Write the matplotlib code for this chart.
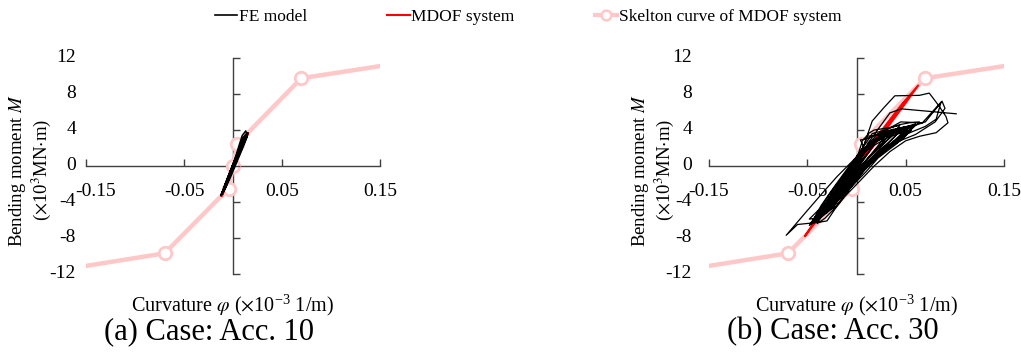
import numpy as np
import matplotlib
matplotlib.use('Agg')
import matplotlib.pyplot as plt
from matplotlib import transforms
from matplotlib.lines import Line2D

plt.rcParams['font.family'] = ['Liberation Serif', 'DejaVu Serif']
plt.rcParams['mathtext.fontset'] = 'stix'

# ---------------- data ----------------
x_ticks = [-0.15, -0.05, 0.05, 0.15]
x_tick_labels = ['-0.15', '-0.05', '0.05', '0.15']
y_ticks = [-12, -8, -4, 0, 4, 8, 12]
y_tick_labels = ['-12', '-8', '-4', '0', '4', '8', '12']

# skeleton curve of MDOF system
skel_x = [-0.15, -0.0697, -0.0045, 0.0, 0.0045, 0.0697, 0.15]
skel_y = [-11.1, -9.7, -2.5, 0.0, 2.5, 9.75, 11.1]

# Case Acc. 10
fe_acc10 = [
    (0.000, 0.0), (0.004, 1.2), (0.008, 2.2), (0.011, 2.9), (0.008, 2.1),
    (0.003, 0.8), (-0.002, -0.5), (-0.006, -1.6), (-0.009, -2.4), (-0.006, -1.5),
    (-0.001, -0.1), (0.004, 1.3), (0.009, 2.6), (0.013, 3.4), (0.010, 2.6),
    (0.005, 1.2), (0.000, -0.1), (-0.005, -1.4), (-0.010, -2.7), (-0.0125, -3.3),
    (-0.009, -2.4), (-0.004, -1.0), (0.001, 0.4), (0.006, 1.9), (0.010, 3.1),
    (0.0145, 3.7), (0.012, 2.9), (0.007, 1.5), (0.002, 0.2), (-0.003, -1.0),
    (-0.008, -2.2), (-0.011, -3.0), (-0.008, -2.0), (-0.003, -0.6), (0.002, 0.8),
    (0.0065, 2.4), (0.0095, 3.4), (0.013, 3.9), (0.0145, 3.5), (0.011, 2.6),
    (0.006, 1.3), (0.001, 0.0), (-0.004, -1.2), (-0.009, -2.5), (-0.012, -3.2),
    (-0.010, -2.6), (-0.005, -1.2), (0.000, 0.2), (0.005, 1.5), (0.009, 2.6),
    (0.0125, 3.4), (0.0155, 3.7), (0.013, 3.0), (0.008, 1.8), (0.003, 0.5),
    (-0.002, -0.8), (-0.007, -2.0), (-0.0105, -2.9), (-0.0085, -2.6), (-0.004, -1.4),
    (0.001, -0.1), (0.006, 1.2), (0.011, 2.5), (0.0145, 3.3), (0.0125, 2.7),
    (0.008, 1.5), (0.003, 0.2), (-0.002, -1.1), (-0.007, -2.3), (-0.0115, -3.2),
    (-0.0095, -2.8), (-0.005, -1.6), (0.000, -0.3), (0.005, 1.1), (0.010, 2.4),
    (0.014, 3.2),
]
mdof_acc10 = [
    (-0.0115, -3.35), (-0.006, -1.9), (0.000, -0.2), (0.006, 1.5), (0.0155, 3.6),
    (0.012, 3.0), (0.005, 1.1), (-0.001, -0.5), (-0.007, -2.2), (-0.0105, -3.1),
]

# Case Acc. 30
fe_acc30 = [
    (0.000, 0.0), (0.006, 1.1), (0.012, 2.0), (0.018, 2.5), (0.013, 1.6),
    (0.004, 0.2), (-0.006, -1.3), (-0.013, -2.4), (-0.018, -3.0), (-0.011, -1.7),
    (-0.002, 0.0), (0.009, 1.6), (0.020, 2.7), (0.028, 3.1), (0.020, 2.0),
    (0.008, 0.4), (-0.004, -1.1), (-0.015, -2.9), (-0.025, -4.1), (-0.017, -2.8),
    (-0.006, -0.8), (0.006, 1.2), (0.018, 2.6), (0.032, 3.5), (0.040, 3.9),
    (0.030, 2.7), (0.016, 1.0), (0.002, -0.6), (-0.012, -2.6), (-0.026, -4.5),
    (-0.034, -5.3), (-0.025, -3.8), (-0.012, -1.6), (0.000, 0.4), (0.012, 2.2),
    (0.026, 3.4), (0.040, 4.1), (0.048, 4.3), (0.036, 3.0), (0.020, 1.2),
    (0.006, -0.4), (-0.010, -2.5), (-0.024, -4.6), (-0.038, -5.9), (-0.044, -6.3),
    (-0.033, -4.7), (-0.018, -2.4), (-0.004, 0.0), (0.006, 1.8), (0.010, 3.1),
    (0.016, 5.0), (0.028, 6.5), (0.039, 7.8), (0.064, 7.85), (0.074, 8.1),
    (0.083, 6.8), (0.091, 5.5), (0.093, 4.8), (0.081, 3.7), (0.064, 3.3),
    (0.050, 2.8), (0.034, 1.6), (0.018, 0.0), (0.004, -1.6), (-0.012, -3.4),
    (-0.022, -4.8), (-0.030, -6.1), (-0.038, -6.25), (-0.060, -6.5), (-0.0715, -7.7),
    (-0.052, -5.2), (-0.033, -2.8), (-0.020, -1.2), (0.000, 1.0), (0.020, 3.4),
    (0.045, 4.9), (0.067, 4.8), (0.086, 7.1), (0.081, 5.2), (0.070, 4.4),
    (0.052, 3.6), (0.040, 2.4), (0.022, 0.9), (0.010, -0.6), (-0.006, -2.4),
    (-0.020, -4.4), (-0.040, -5.8), (-0.048, -5.9), (-0.036, -4.6), (-0.026, -3.8),
    (-0.012, -1.5), (0.000, 0.6), (0.014, 2.6), (0.030, 3.8), (0.052, 4.4),
    (0.062, 4.6), (0.070, 4.9), (0.087, 7.2), (0.090, 6.4), (0.080, 4.9),
    (0.060, 3.5), (0.044, 2.8), (0.026, 1.5), (0.008, -0.4), (-0.010, -2.8),
    (-0.022, -4.2), (-0.036, -5.6), (-0.042, -6.1), (-0.030, -4.4), (-0.016, -2.2),
    (-0.002, 0.2), (0.012, 2.4), (0.026, 3.6), (0.042, 4.2), (0.056, 4.5),
    (0.046, 3.4), (0.030, 2.0), (0.014, 0.5), (-0.002, -1.5), (-0.016, -3.4),
    (-0.030, -5.0), (-0.040, -5.5), (-0.028, -3.6), (-0.014, -1.4), (0.002, 0.9),
    (0.016, 2.8), (0.034, 3.8), (0.050, 4.0), (0.038, 2.8), (0.022, 1.4),
    (0.006, -0.2), (-0.008, -2.0), (-0.024, -4.0), (-0.032, -5.2), (-0.022, -3.2),
    (-0.008, -0.9), (0.006, 1.4), (0.020, 3.0), (0.032, 3.4), (0.024, 2.2),
    (0.012, 0.8), (0.000, -0.8), (-0.014, -2.6), (-0.020, -3.6), (-0.012, -2.0),
    (-0.046, -6.4), (-0.036, -4.4), (-0.022, -2.2), (-0.006, 0.2), (0.012, 2.2),
    (0.030, 3.5), (0.052, 4.2), (0.044, 3.1), (0.030, 1.9), (0.014, 0.3),
    (-0.004, -1.8), (-0.020, -3.9), (-0.036, -5.6), (-0.042, -5.9), (-0.030, -3.9),
    (-0.016, -1.6), (0.000, 0.6), (0.018, 2.6), (0.036, 3.7), (0.058, 4.4),
    (0.048, 3.2), (0.032, 2.0), (0.016, 0.5), (0.000, -1.4), (-0.018, -3.7),
    (-0.034, -5.4), (-0.043, -6.0), (-0.028, -4.9), (-0.018, -2.9), (-0.006, -0.6),
    (0.008, 1.5), (0.024, 3.1), (0.044, 3.9), (0.036, 2.9), (0.022, 1.6),
    (0.006, -0.2), (-0.010, -2.3), (-0.026, -4.4), (-0.038, -5.8), (-0.030, -4.0),
    (-0.014, -1.4), (0.004, 1.2), (0.022, 3.1), (0.042, 4.0), (0.060, 4.7),
    (0.050, 3.6), (0.034, 2.2), (0.018, 0.8), (0.002, -0.9), (-0.014, -3.0),
    (-0.030, -5.1), (-0.040, -5.9), (-0.028, -3.5), (-0.012, -1.0), (0.006, 1.6),
    (0.020, 3.0), (0.012, 1.5), (-0.002, -0.5), (-0.016, -2.6), (-0.026, -4.2),
    (-0.036, -4.8), (-0.020, -2.4), (-0.004, 0.4), (0.010, 2.6), (0.016, 3.6),
    (0.026, 3.9), (0.044, 4.6), (0.054, 4.8), (0.064, 4.9), (0.054, 3.9),
    (0.040, 2.9), (0.024, 1.6), (0.010, 0.0), (-0.008, -2.2), (-0.024, -4.3),
    (-0.040, -6.1), (-0.048, -6.6), (-0.040, -5.3), (-0.028, -3.2), (-0.012, -0.9),
    (0.004, 1.3), (0.020, 2.9), (0.040, 3.7), (0.048, 3.9), (0.040, 2.8),
    (0.026, 1.4), (0.010, -0.2), (-0.006, -2.0), (-0.022, -4.2), (-0.034, -5.5),
    (-0.024, -3.1), (-0.010, -0.8), (0.004, 1.6), (0.008, 2.4), (0.012, 3.6),
    (0.018, 4.0), (0.030, 4.2), (0.044, 4.5), (0.036, 3.3), (0.020, 1.8),
    (0.004, 0.0), (-0.012, -2.2), (-0.028, -4.6), (-0.038, -5.3), (-0.034, -5.0),
    (-0.022, -3.0), (-0.010, -0.8), (0.002, 1.4), (0.006, 2.8), (0.010, 3.3),
    (0.020, 3.4), (0.036, 3.6), (0.050, 3.7), (0.040, 2.6), (0.024, 1.3),
    (0.008, -0.5), (-0.008, -2.7), (-0.024, -4.9), (-0.032, -5.8), (-0.040, -6.4),
    (-0.030, -4.6), (-0.016, -2.2), (0.000, 0.0), (0.018, 2.3), (0.034, 3.3),
    (0.056, 4.0), (0.046, 2.9), (0.030, 1.8), (0.014, 0.4), (-0.002, -1.5),
    (-0.020, -4.0), (-0.030, -5.2), (-0.018, -2.6), (-0.004, -0.2), (0.008, 1.9),
    (0.004, 2.9), (0.010, 3.0), (0.024, 3.7), (0.038, 4.1), (0.030, 3.0),
    (0.016, 1.4), (0.000, -0.6), (-0.014, -2.8), (-0.026, -4.6), (-0.016, -2.4),
    (0.000, 0.0), (0.012, 2.6), (0.024, 4.4), (0.034, 5.9), (0.0455, 6.35),
    (0.1014, 5.8),
]
mdof_acc30 = [
    (0.000, 0.0), (0.015, 2.3), (0.022, 3.2), (0.012, 1.6), (-0.010, -1.6),
    (-0.020, -3.0), (-0.012, -1.9), (0.010, 1.6), (0.030, 4.4), (0.035, 5.0),
    (0.025, 3.5), (0.000, -0.2), (-0.030, -4.6), (-0.038, -5.7), (-0.028, -4.2),
    (0.000, 0.2), (0.030, 4.6), (0.045, 6.7), (0.0627, 8.95), (0.050, 7.0),
    (0.020, 2.6), (-0.010, -1.7), (-0.040, -6.0), (-0.0525, -7.8), (-0.040, -5.7),
    (-0.010, -1.3), (0.020, 3.0), (0.040, 5.8), (0.050, 7.3), (0.035, 5.0),
    (0.010, 1.3), (-0.020, -3.1), (-0.035, -5.2), (-0.020, -2.8), (0.000, 0.0),
]

captions = ['(a) Case: Acc. 10', '(b) Case: Acc. 30']
legend_labels = ['FE model', 'MDOF system', 'Skelton curve of MDOF system']

# ---------------- style ----------------
W, H = 1021, 356
fig = plt.figure(figsize=(W / 100, H / 100), dpi=100)
pink = '#FFC8C8'
axis_color = '#404040'
tick_fs = 14

ax_rects = [(86, 58, 380, 274), (709, 58, 1004, 274)]
ylab_offsets = [-10, -17]
first_xlabel_shift = [10, 0]   # pixels; left panel's first label sits inside the chart area
datasets = [(fe_acc10, mdof_acc10, 1.1), (fe_acc30, mdof_acc30, 0.9)]

for (l, t, r, b), (fe, mdof, fe_lw), cap, yoff, xshift in zip(
        ax_rects, datasets, captions, ylab_offsets, first_xlabel_shift):
    ax = fig.add_axes([l / W, 1 - b / H, (r - l) / W, (b - t) / H])
    ax.plot(skel_x, skel_y, color=pink, lw=3.2, marker='o', ms=9,
            mfc='white', mec=pink, mew=2, markevery=[1, 2, 3, 4, 5], zorder=1)
    m = np.array(mdof)
    ax.plot(m[:, 0], m[:, 1], color='red', lw=1.4, zorder=2)
    f = np.array(fe)
    ax.plot(f[:, 0], f[:, 1], color='black', lw=fe_lw, zorder=3)

    ax.set_xlim(-0.15, 0.15)
    ax.set_ylim(-12, 12)
    for s in ['top', 'right']:
        ax.spines[s].set_visible(False)
    ax.spines['left'].set_position(('data', 0))
    ax.spines['bottom'].set_position(('data', 0))
    for s in ['left', 'bottom']:
        ax.spines[s].set_color(axis_color)
        ax.spines[s].set_linewidth(1.0)
        ax.spines[s].set_zorder(0.5)
    ax.set_xticks(x_ticks, x_tick_labels)
    ax.set_yticks(y_ticks)
    ax.tick_params(axis='x', direction='in', length=5, width=1.0,
                   color=axis_color, labelsize=tick_fs, pad=12)
    ax.tick_params(axis='y', direction='in', length=5, width=1.0,
                   color=axis_color, labelleft=False)
    if xshift:
        lab0 = ax.xaxis.get_major_ticks()[0].label1
        lab0.set_transform(lab0.get_transform() +
                           transforms.ScaledTranslation(xshift / 100, 0, fig.dpi_scale_trans))
    trans = transforms.blended_transform_factory(ax.transAxes, ax.transData)
    trans = transforms.offset_copy(trans, fig=fig, x=yoff, y=0, units='dots')
    for v, lab in zip(y_ticks, y_tick_labels):
        ax.text(0, v, lab, transform=trans, ha='right', va='center',
                fontsize=tick_fs)
    ax.text(-0.19, 0.48, 'Bending moment $M$\n($\\times$10$^{3}$MN$\\cdot$m)',
            transform=ax.transAxes, rotation=90, ha='center', va='center',
            multialignment='center', fontsize=13.5, linespacing=1.1)
    ax.text(0.5, -0.145, r'Curvature $\varphi$ ($\times$10$^{\mathregular{-3}}$ 1/m)',
            transform=ax.transAxes, ha='center', va='center', fontsize=14.5)
    ax.text(0.42, -0.265, cap, transform=ax.transAxes, ha='center',
            va='center', fontsize=22)

handles = [
    Line2D([], [], color='black', lw=1.2),
    Line2D([], [], color='red', lw=1.5),
    Line2D([], [], color=pink, lw=3, marker='o', ms=7, mfc='white', mec=pink, mew=1.8),
]
fig.legend(handles, legend_labels, loc='center', bbox_to_anchor=(528 / W, 1 - 17 / H),
           ncol=3, frameon=False, fontsize=12.5, handlelength=1.3,
           handletextpad=0.1, columnspacing=4.6, borderaxespad=0, numpoints=1)

fig.savefig('out.png', dpi=100)
